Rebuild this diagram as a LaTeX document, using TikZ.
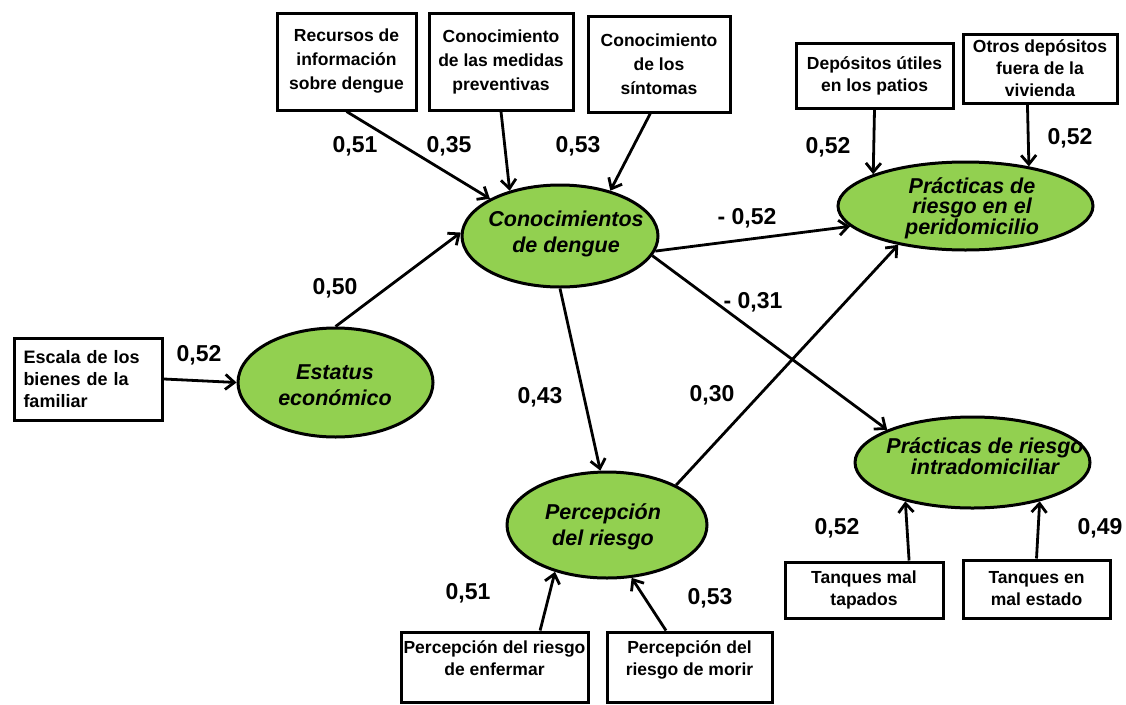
\documentclass[tikz,border=0pt]{standalone}
\usepackage{fontspec}
\setmainfont{Liberation Sans}
\usetikzlibrary{shapes.geometric,arrows.meta,calc}
\definecolor{latgreen}{RGB}{146,208,80}

\begin{document}
\begin{tikzpicture}[x=1pt, y=-1pt,
    obs/.style={draw, line width=3pt, rectangle, inner sep=2pt, align=center, font=\fontsize{17.5}{22}\selectfont\bfseries},
    lat/.style={draw, line width=3pt, ellipse, fill=latgreen, inner sep=0pt},
    lattext/.style={align=center, font=\fontsize{21.5}{26}\selectfont\bfseries\itshape},
    coef/.style={font=\fontsize{23}{26}\selectfont\bfseries},
    eff/.style={line width=2.8pt, -{Straight Barb[length=9pt,width=15pt]}}]
    \useasboundingbox (0,0) rectangle (1126,704);

    % Latent variables
    \node[lat, minimum width=196pt, minimum height=102pt] (con) at (560,236) {};
    \node[lat, minimum width=195pt, minimum height=109pt] (est) at (335.5,382.5) {};
    \node[lat, minimum width=200pt, minimum height=106pt] (per) at (607,525) {};
    \node[lat, minimum width=255pt, minimum height=88pt] (peri) at (965.5,206) {};
    \node[lat, minimum width=235pt, minimum height=91pt] (intra) at (972.5,462.5) {};

    \node[lattext] (tcon) at (566,234) {Conocimientos\\de dengue};
    \node[lattext] (test) at (335,385) {Estatus\\económico};
    \node[lattext] (tper) at (603,527) {Percepción\\del riesgo};
    \node[lattext, font=\fontsize{21.5}{20}\selectfont\bfseries\itshape] (tperi) at (972,208) {Prácticas de\\riesgo en el\\peridomicilio};
    \node[lattext, font=\fontsize{21.5}{20}\selectfont\bfseries\itshape] (tintra) at (985,456) {Prácticas de riesgo\\intradomiciliar};

    % Indicators
    \node[obs, font=\fontsize{17.5}{24}\selectfont\bfseries, minimum width=139pt, minimum height=97pt] (rec) at (346.5,61.5) {Recursos de\\información\\sobre dengue};
    \node[obs, font=\fontsize{17.5}{24}\selectfont\bfseries, minimum width=144pt, minimum height=97pt] (med) at (501,61.5) {Conocimiento\\de las medidas\\preventivas};
    \node[obs, font=\fontsize{17.5}{24}\selectfont\bfseries, minimum width=142pt, minimum height=96pt] (sin) at (659,64) {Conocimiento\\de los\\síntomas};
    \node[obs, minimum width=157pt, minimum height=65pt] (dep) at (874.5,75.5) {Depósitos útiles\\en los patios};
    \node[obs, minimum width=154pt, minimum height=69pt] (otr) at (1040,68.5) {Otros depósitos\\fuera de la\\vivienda};
    \node[obs, align=left, text width=130pt, inner xsep=9pt, minimum height=82pt, font=\fontsize{18}{22}\selectfont\bfseries] (esc) at (88.5,379) {Escala de los\\bienes de la\\familiar};
    \node[obs, minimum width=187pt, minimum height=70pt, text depth=17pt] (enf) at (494.5,667) {Percepción del riesgo\\de enfermar};
    \node[obs, minimum width=165pt, minimum height=70pt, text depth=17pt] (mor) at (689.5,667) {Percepción del\\riesgo de morir};
    \node[obs, minimum width=158pt, minimum height=56pt] (tmt) at (864,590) {Tanques mal\\tapados};
    \node[obs, minimum width=147pt, minimum height=58pt] (tme) at (1036.5,589) {Tanques en\\mal estado};

    % Paths
    \draw[eff] (rec.south) -- (con.152);
    \draw[eff] (med.south) -- (con.138);
    \draw[eff] ($(sin.south west)!0.44!(sin.south east)$) -- (con.42);
    \draw[eff] (esc.east) -- (est.west);
    \draw[eff] (est.north) -- (con.178);
    \draw[eff] (con.-9) -- (peri.-170);
    \draw[eff] (con.-12) -- (intra.159);
    \draw[eff] (con.south) -- (per.97);
    \draw[eff] (per.30) -- (peri.-150);
    \draw[eff] (dep.south) -- (peri.161);
    \draw[eff] ($(otr.south west)!0.42!(otr.south east)$) -- (peri.32);
    \draw[eff] ($(tmt.north west)!0.78!(tmt.north east)$) -- (intra.-150);
    \draw[eff] (tme.north) -- (intra.-30);
    \draw[eff] ($(enf.north west)!0.74!(enf.north east)$) -- (per.-138);
    \draw[eff] ($(mor.north west)!0.36!(mor.north east)$) -- (per.-65);

    % Coefficients
    \foreach \x/\y/\val [count=\i] in {355/146/{0,51}, 449/146/{0,35}, 578/146/{0,53}, 335/288/{0,50}, 199/355/{0,52}, 747/218/{- 0,52}, 753/302/{- 0,31}, 540/397/{0,43}, 712/395/{0,30}, 828/147/{0,52}, 1070/138/{0,52}, 837/528/{0,52}, 1100/528/{0,49}, 468/593/{0,51}, 710/598/{0,53}} {
        \node[coef] (k\i) at (\x,\y) {\val};
    }
\end{tikzpicture}
\end{document}
